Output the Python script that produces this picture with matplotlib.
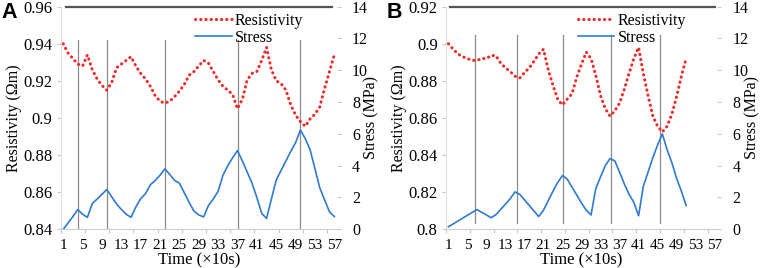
import matplotlib
matplotlib.use("Agg")
import matplotlib.pyplot as plt
from matplotlib.ticker import FuncFormatter

plt.rcParams["font.family"] = ["Liberation Serif", "DejaVu Sans"]

# ---- panel A data (time index 1..57) ----
res_a = [0.940, 0.935, 0.932, 0.929, 0.928, 0.934, 0.926, 0.921, 0.9175, 0.915,
         0.919, 0.927, 0.929, 0.931, 0.933, 0.928, 0.924, 0.921, 0.917, 0.912,
         0.909, 0.908, 0.909, 0.9115, 0.9145, 0.918, 0.923, 0.925, 0.928, 0.931,
         0.9295, 0.925, 0.9205, 0.917, 0.915, 0.9125, 0.905, 0.910, 0.9205, 0.924,
         0.925, 0.931, 0.938, 0.926, 0.920, 0.9185, 0.915, 0.907, 0.9015, 0.898,
         0.8955, 0.8995, 0.902, 0.906, 0.916, 0.925, 0.934]
stress_a = [0.0, 0.4, 0.8, 1.24, 0.95, 0.75, 1.62, 1.9, 2.2, 2.5,
            2.05, 1.6, 1.25, 0.95, 0.75, 1.4, 1.93, 2.24, 2.8, 3.07,
            3.4, 3.8, 3.45, 3.07, 2.9, 2.3, 1.7, 1.15, 0.9, 0.78,
            1.5, 1.9, 2.4, 3.4, 4.0, 4.5, 4.95, 4.3, 3.6, 2.9,
            2.0, 1.0, 0.68, 1.9, 3.1, 3.7, 4.3, 4.9, 5.45, 6.24,
            5.7, 5.0, 3.8, 2.6, 1.85, 1.1, 0.8]
marks_a = [4, 10, 22, 37, 50]

# ---- panel B data (time index 1..51) ----
res_b = [0.900, 0.897, 0.8945, 0.893, 0.892, 0.891, 0.891, 0.892, 0.892, 0.8937,
         0.8935, 0.8895, 0.887, 0.885, 0.8825, 0.8815, 0.8844, 0.887, 0.8905, 0.8945,
         0.897, 0.886, 0.8775, 0.870, 0.867, 0.8702, 0.873, 0.882, 0.889, 0.8955,
         0.892, 0.883, 0.872, 0.865, 0.861, 0.8638, 0.868, 0.8755, 0.884, 0.892,
         0.898, 0.884, 0.872, 0.861, 0.8555, 0.8525, 0.8555, 0.862, 0.8715, 0.8825,
         0.892]
stress_b = [0.16, 0.34, 0.52, 0.7, 0.88, 1.06, 1.24, 1.07, 0.9, 0.73,
            0.92, 1.25, 1.58, 1.92, 2.35, 2.2, 1.85, 1.5, 1.15, 0.8,
            1.2, 1.8, 2.4, 2.95, 3.38, 3.15, 2.65, 2.15, 1.65, 1.2,
            0.9, 2.55, 3.3, 4.0, 4.45, 4.3, 3.6, 2.85, 2.2, 1.7,
            0.85, 2.7, 3.6, 4.5, 5.3, 6.0, 5.0, 4.2, 3.2, 2.4,
            1.5]
marks_b = [6.7, 15.4, 25.1, 35.1, 45.6]

x_labels = list(range(1, 58, 4))

RED = "#ee2a2a"
BLUE = "#2e7bcf"
LIGHT = "#c8c8c8"


def panel(rect, res, stress, marks, ylim, yticks, letter, top_span, mark_top, mark_bottom):
    ax = fig.add_axes(rect)
    ax2 = ax.twinx()
    t = list(range(1, len(res) + 1))

    for m in marks:
        ax.axvline(m, ymin=mark_bottom, ymax=mark_top, color="#8a8a8a", lw=0.9, zorder=1)
    ax.axhline(ylim[1], xmin=top_span[0], xmax=top_span[1], color="#555555", lw=1.6,
               clip_on=False, zorder=3)

    l1, = ax.plot(t, res, color=RED, lw=2.2, linestyle=(0, (0.1, 1.6)),
                  dash_capstyle="round", label="Resistivity", zorder=4)
    l2, = ax2.plot(t, stress, color=BLUE, lw=1.2, label="Stress")

    ax.set_xlim(0.5, 57.5)
    ax.set_ylim(*ylim)
    ax.set_yticks(yticks)
    ax.yaxis.set_major_formatter(FuncFormatter(lambda v, p: f"{v:g}"))
    ax2.set_ylim(0, 14)
    ax2.set_yticks(range(0, 15, 2))

    ax.set_xticks(x_labels)
    ax.set_xticks([0.5 + 5 * k for k in range(12)], minor=True)
    ax.tick_params(axis="x", which="major", length=0, pad=7, labelsize=11)
    ax.tick_params(axis="x", which="minor", length=3, color=LIGHT, width=0.8)
    ax.tick_params(axis="y", length=3, color=LIGHT, width=0.8, pad=3, labelsize=12)
    ax2.tick_params(axis="y", length=3, color=LIGHT, width=0.8, pad=8, labelsize=11.5)

    for a in (ax, ax2):
        for s in a.spines.values():
            s.set_visible(False)
    ax.spines["left"].set_visible(True)
    ax.spines["left"].set_color("#e0e0e0")
    ax.spines["bottom"].set_visible(True)
    ax.spines["bottom"].set_color("#d0d0d0")

    ax.set_xlabel("Time (×10s)", fontsize=12, labelpad=0)
    ax.set_ylabel("Resistivity (Ωm)", fontsize=11.5, labelpad=1)
    ax2.set_ylabel("Stress (MPa)", fontsize=11.5, labelpad=-3)

    ax2.legend([l1, l2], ["Resistivity", "Stress"], loc="upper left",
               bbox_to_anchor=(0.48, 0.98), frameon=False, fontsize=11.5,
               handlelength=2.3, handletextpad=0.2, labelspacing=0.08,
               borderpad=0.1, borderaxespad=0)

    fig.text(rect[0] - 0.078, 0.952, letter, fontsize=15.5, fontweight="bold",
             family="Liberation Sans", va="center", ha="left")
    return ax, ax2


fig = plt.figure(figsize=(7.61, 2.68), dpi=100)

panel([0.0799, 0.1444, 0.3626, 0.831], res_a, stress_a, marks_a,
      (0.84, 0.96), [0.84, 0.86, 0.88, 0.9, 0.92, 0.94, 0.96], "A",
      (0.019, 0.983), 0.85, 0.0)
panel([0.5861, 0.1444, 0.3561, 0.831], res_b, stress_b, marks_b,
      (0.8, 0.92), [0.8, 0.82, 0.84, 0.86, 0.88, 0.9, 0.92], "B",
      (0.015, 0.993), 0.874, 0.03)

fig.savefig("out.png", dpi=100)
